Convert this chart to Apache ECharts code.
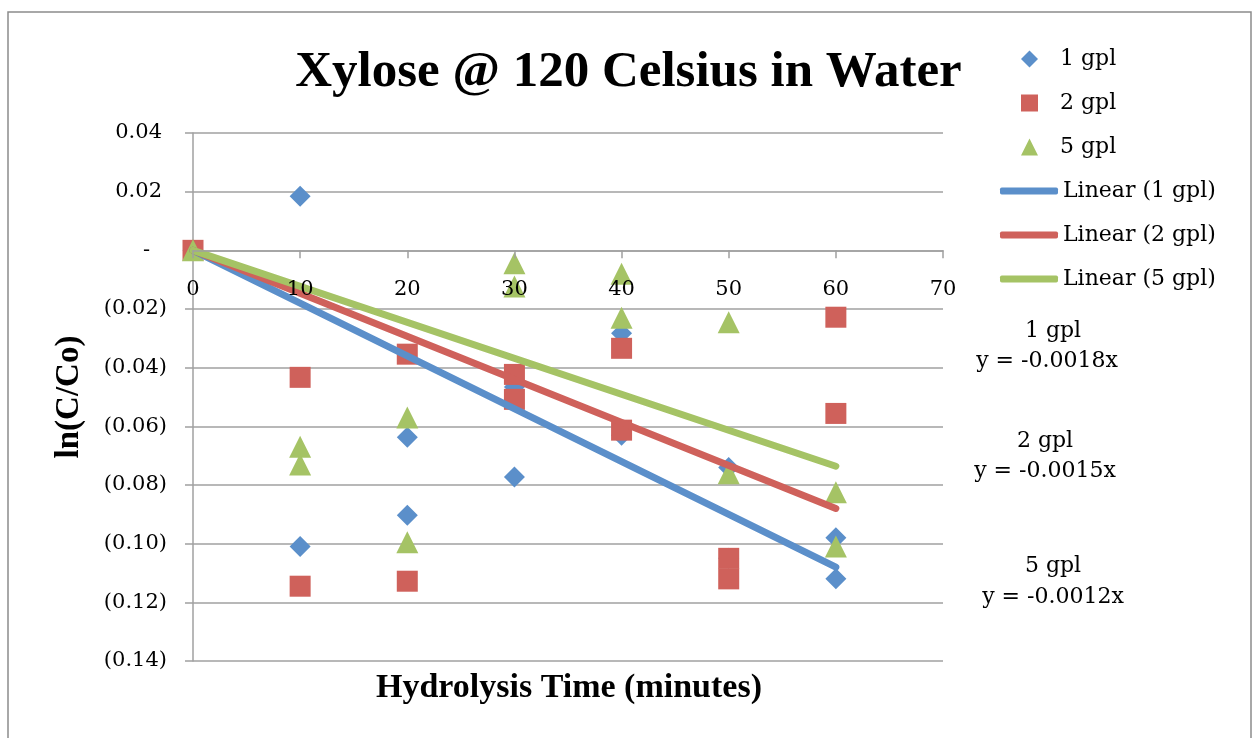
<!DOCTYPE html>
<html>
<head>
<meta charset="utf-8">
<script src="https://cdn.jsdelivr.net/npm/echarts@6/dist/echarts.min.js"></script>
<style>
  html, body { margin: 0; padding: 0; background: #fff; }
  #chart { width: 1257px; height: 738px; }
</style>
</head>
<body>
<div id="chart"></div>
<script>
// hydrolysis time (minutes) for every measured point
const times = [0, 10, 10, 20, 20, 30, 30, 40, 40, 50, 50, 60, 60];
// ln(C/Co)
const gpl1 = [0, 0.0184, -0.101, -0.0637, -0.0903, -0.0466, -0.0773, -0.0283, -0.063, -0.074, -0.105, -0.098, -0.112];
const gpl2 = [0, -0.0433, -0.1145, -0.0354, -0.1128, -0.0423, -0.0508, -0.0334, -0.0613, -0.105, -0.112, -0.0228, -0.0556];
const gpl5 = [0, -0.067, -0.073, -0.057, -0.0995, -0.0044, -0.0123, -0.008, -0.023, -0.0245, -0.076, -0.0825, -0.101];
// linear trendlines: start / end points
const trendX = [0, 60];
const trend1 = [0, -0.108];
const trend2 = [0, -0.088];
const trend5 = [0, -0.0736];
const seriesNames = ['1 gpl', '2 gpl', '5 gpl'];
const trendNames = ['Linear (1 gpl)', 'Linear (2 gpl)', 'Linear (5 gpl)'];
const equations = ['y = -0.0018x', 'y = -0.0015x', 'y = -0.0012x'];

const colors = ['#5B8FCA', '#CF615B', '#A5C365'];
const serif = 'DejaVu Serif';
const boldSerif = 'Liberation Serif';

function pairs(xs, ys) {
  return ys.map((v, i) => [xs[i], v]);
}

const gridTop = 133, gridBottom = 77, chartH = 738;
const yMin = -0.14, yMax = 0.04;
// move the x axis (line, ticks, labels) up to y = 0
const plotH = chartH - gridTop - gridBottom;
const xAxisOffset = -plotH * (0 - yMin) / (yMax - yMin);

let chart = echarts.init(document.getElementById('chart'));

let option = {
  animation: false,
  title: {
    text: 'Xylose @ 120 Celsius in Water',
    left: 'center',
    top: 42,
    textStyle: { fontFamily: boldSerif, fontWeight: 'bold', fontSize: 51, color: '#000' }
  },
  legend: [
    {
      orient: 'vertical',
      left: 1016,
      top: 43,
      itemWidth: 17,
      itemHeight: 17,
      itemGap: 22,
      formatter: name => '{t|' + name + '}',
      textStyle: {
        fontFamily: serif, fontSize: 22, color: '#000',
        rich: { t: { fontFamily: serif, fontSize: 22, color: '#000', padding: [0, 0, 0, 17] } }
      },
      data: [
        { name: seriesNames[0], icon: 'diamond' },
        { name: seriesNames[1], icon: 'rect' },
        { name: seriesNames[2], icon: 'triangle' }
      ]
    },
    {
      orient: 'vertical',
      left: 995,
      top: 43 + 3 * 44,
      itemWidth: 58,
      itemHeight: 7,
      itemGap: 22,
      icon: 'roundRect',
      textStyle: { fontFamily: serif, fontSize: 22, color: '#000' },
      data: trendNames
    }
  ],
  grid: { left: 193, right: 314, top: gridTop, bottom: gridBottom },
  xAxis: {
    type: 'value',
    min: 0,
    max: 70,
    interval: 10,
    offset: xAxisOffset,
    z: 10,
    axisLine: { onZero: false, lineStyle: { color: '#a0a0a0', width: 1.5 } },
    axisTick: { show: true, length: 8, lineStyle: { color: '#a0a0a0', width: 1.5 } },
    axisLabel: { margin: 29, fontFamily: serif, fontSize: 21, color: '#000' },
    splitLine: { show: false }
  },
  yAxis: {
    type: 'value',
    min: yMin,
    max: yMax,
    interval: 0.02,
    name: 'ln(C/Co)',
    nameLocation: 'middle',
    nameGap: 107,
    nameTextStyle: { fontFamily: boldSerif, fontWeight: 'bold', fontSize: 33, color: '#000' },
    axisLine: { show: true, lineStyle: { color: '#a0a0a0', width: 1.5 } },
    axisTick: { show: true, length: 8, lineStyle: { color: '#a0a0a0', width: 1.5 } },
    axisLabel: {
      margin: 26,
      fontFamily: serif,
      fontSize: 21,
      color: '#000',
      formatter: function (v) {
        if (Math.abs(v) < 1e-9) return '{z|-}';
        if (v < 0) return '{n|(' + Math.abs(v).toFixed(2) + ')}';
        return '{p|' + v.toFixed(2) + '}';
      },
      rich: {
        n: { fontFamily: serif, fontSize: 21, color: '#000' },
        p: { fontFamily: serif, fontSize: 21, color: '#000', padding: [0, 5, 0, 0] },
        z: { fontFamily: serif, fontSize: 21, color: '#000', padding: [0, 17, 0, 0] }
      }
    },
    splitLine: { show: true, lineStyle: { color: '#a0a0a0', width: 1.5 } }
  },
  series: [
    { name: seriesNames[0], type: 'scatter', symbol: 'diamond', symbolSize: 21, z: 2,
      itemStyle: { color: colors[0], opacity: 1 }, data: pairs(times, gpl1) },
    { name: seriesNames[1], type: 'scatter', symbol: 'rect', symbolSize: 21, z: 3,
      itemStyle: { color: colors[1], opacity: 1 }, data: pairs(times, gpl2) },
    { name: seriesNames[2], type: 'scatter', symbol: 'triangle', symbolSize: 22, z: 4,
      itemStyle: { color: colors[2], opacity: 1 }, data: pairs(times, gpl5) },
    { name: trendNames[0], type: 'line', symbol: 'none', z: 5,
      lineStyle: { color: colors[0], width: 7, cap: 'round' }, itemStyle: { color: colors[0] },
      data: pairs(trendX, trend1) },
    { name: trendNames[1], type: 'line', symbol: 'none', z: 6,
      lineStyle: { color: colors[1], width: 7, cap: 'round' }, itemStyle: { color: colors[1] },
      data: pairs(trendX, trend2) },
    { name: trendNames[2], type: 'line', symbol: 'none', z: 7,
      lineStyle: { color: colors[2], width: 7, cap: 'round' }, itemStyle: { color: colors[2] },
      data: pairs(trendX, trend5) }
  ],
  graphic: [
    { type: 'rect', shape: { x: 8, y: 12, width: 1243, height: 740 }, silent: true,
      style: { fill: 'none', stroke: '#8c8c8c', lineWidth: 1.5 } },
    { type: 'text', x: 569, y: 688, silent: true,
      style: { text: 'Hydrolysis Time (minutes)', align: 'center', verticalAlign: 'middle',
        font: 'bold 34px "' + boldSerif + '"', fill: '#000' } },
    // trendline equations
    { type: 'text', x: 1053, y: 331, silent: true,
      style: { text: seriesNames[0], font: '22px "' + serif + '"', fill: '#000', align: 'center', verticalAlign: 'middle' } },
    { type: 'text', x: 1047, y: 361, silent: true,
      style: { text: equations[0], font: '22px "' + serif + '"', fill: '#000', align: 'center', verticalAlign: 'middle' } },
    { type: 'text', x: 1045, y: 441, silent: true,
      style: { text: seriesNames[1], font: '22px "' + serif + '"', fill: '#000', align: 'center', verticalAlign: 'middle' } },
    { type: 'text', x: 1045, y: 471, silent: true,
      style: { text: equations[1], font: '22px "' + serif + '"', fill: '#000', align: 'center', verticalAlign: 'middle' } },
    { type: 'text', x: 1053, y: 566, silent: true,
      style: { text: seriesNames[2], font: '22px "' + serif + '"', fill: '#000', align: 'center', verticalAlign: 'middle' } },
    { type: 'text', x: 1053, y: 597, silent: true,
      style: { text: equations[2], font: '22px "' + serif + '"', fill: '#000', align: 'center', verticalAlign: 'middle' } }
  ]
};

chart.setOption(option);
window.addEventListener('resize', () => chart.resize(), false);
</script>
</body>
</html>
